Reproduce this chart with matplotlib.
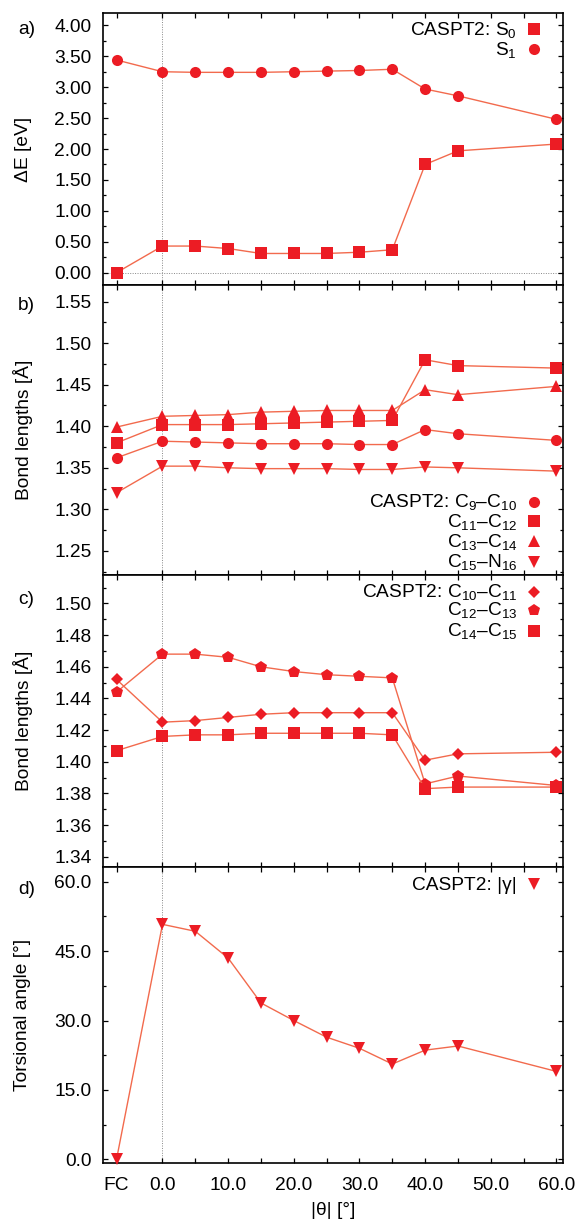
import matplotlib
matplotlib.use("Agg")
import matplotlib.pyplot as plt
from matplotlib.ticker import FixedLocator, FixedFormatter, MultipleLocator, FormatStrFormatter

plt.rcParams['font.family'] = ['Liberation Sans', 'DejaVu Sans']
plt.rcParams['mathtext.fontset'] = 'custom'
plt.rcParams['mathtext.rm'] = 'Liberation Sans'
plt.rcParams['mathtext.it'] = 'Liberation Sans'
plt.rcParams['mathtext.default'] = 'regular'

# ---- data -------------------------------------------------------------
FC_POS = -7.0
theta = [FC_POS, 0, 5, 10, 15, 20, 25, 30, 35, 40, 45, 60]

# a) energies [eV]
s0 = [0.00, 0.43, 0.43, 0.39, 0.31, 0.31, 0.31, 0.33, 0.37, 1.75, 1.97, 2.08]
s1 = [3.44, 3.25, 3.24, 3.24, 3.24, 3.25, 3.26, 3.27, 3.29, 2.97, 2.86, 2.48]

# b) bond lengths [Å]
c9_c10 = [1.362, 1.382, 1.381, 1.380, 1.379, 1.379, 1.379, 1.378, 1.378, 1.396, 1.391, 1.383]
c11_c12 = [1.380, 1.402, 1.402, 1.402, 1.403, 1.404, 1.405, 1.406, 1.407, 1.480, 1.473, 1.470]
c13_c14 = [1.399, 1.412, 1.413, 1.414, 1.417, 1.418, 1.419, 1.419, 1.419, 1.444, 1.438, 1.448]
c15_n16 = [1.320, 1.352, 1.352, 1.350, 1.349, 1.349, 1.349, 1.348, 1.348, 1.351, 1.350, 1.346]

# c) bond lengths [Å]
c10_c11 = [1.452, 1.425, 1.426, 1.428, 1.430, 1.431, 1.431, 1.431, 1.431, 1.401, 1.405, 1.406]
c12_c13 = [1.444, 1.468, 1.468, 1.466, 1.460, 1.457, 1.455, 1.454, 1.453, 1.386, 1.391, 1.385]
c14_c15 = [1.407, 1.416, 1.417, 1.417, 1.418, 1.418, 1.418, 1.418, 1.417, 1.383, 1.384, 1.384]

# d) torsional angle [°]
gamma = [0.0, 50.8, 49.3, 43.5, 33.8, 30.0, 26.4, 24.0, 20.6, 23.6, 24.5, 19.0]

xtick_pos = [FC_POS, 0, 5, 10, 15, 20, 25, 30, 35, 40, 45, 50, 55, 60]
xtick_lab = ['FC', '0.0', '', '10.0', '', '20.0', '', '30.0', '', '40.0', '', '50.0', '', '60.0']

# ---- style ------------------------------------------------------------
MARK = '#ec1c24'
LINE = '#f26a4d'
FS = 13.8

# marker sizes (points)
MS = {'o': 8.0, 's': 8.0, '^': 9.2, 'v': 9.2, 'D': 5.8, 'p': 8.6}

W, H = 576, 1220
fig = plt.figure(figsize=(W / 100, H / 100), dpi=100)

left_px, right_px = 103.4, 563.0
panels_px = [(13, 285), (285, 575), (575, 867), (867, 1163)]
axes = []
for top, bot in panels_px:
    ax = fig.add_axes([left_px / W, 1 - bot / H, (right_px - left_px) / W, (bot - top) / H])
    axes.append(ax)


def style_axis(ax, ylim, major, minor, fmt, show_x=False):
    ax.set_xlim(-9, 61)
    ax.set_ylim(*ylim)
    ax.xaxis.set_major_locator(FixedLocator(xtick_pos))
    if show_x:
        ax.xaxis.set_major_formatter(FixedFormatter(xtick_lab))
    else:
        ax.set_xticklabels([])
    ax.yaxis.set_major_locator(MultipleLocator(major))
    ax.yaxis.set_minor_locator(MultipleLocator(minor))
    ax.yaxis.set_major_formatter(FormatStrFormatter(fmt))
    ax.tick_params(which='both', direction='in', top=True, right=True,
                   width=0.9, labelsize=FS)
    ax.tick_params(which='major', length=3.4)
    ax.tick_params(which='minor', length=1.9)
    ax.tick_params(axis='y', pad=8.5)
    ax.tick_params(axis='x', pad=10)
    for sp in ax.spines.values():
        sp.set_linewidth(1.2)
    ax.axvline(0, color='#888888', ls=(0, (1, 1.5)), lw=0.7, zorder=1)


def series(ax, y, marker):
    ax.plot(theta, y, color=LINE, lw=1.0, marker=marker, ms=MS[marker],
            mfc=MARK, mec=MARK, mew=0, zorder=3, clip_on=False)


def key(ax, rows):
    """Right-aligned key rows: (label, marker, y offset in px from the axes top)."""
    bb = ax.get_position()
    h_px = bb.height * H
    for label, marker, ypx in rows:
        yf = 1 - ypx / h_px
        yb = 1 - (ypx + 5.5) / h_px
        ax.text((517 - left_px) / (right_px - left_px), yb, label,
                transform=ax.transAxes, ha='right', va='baseline', fontsize=FS)
        ax.plot([(534 - left_px) / (right_px - left_px)], [yf], marker=marker,
                ms=MS[marker], mfc=MARK, mec=MARK, mew=0, ls='none',
                transform=ax.transAxes, clip_on=False)


# a) energies
ax = axes[0]
style_axis(ax, (-0.2, 4.2), 0.5, 0.25, '%.2f')
ax.axhline(0, color='#888888', ls=(0, (1, 1.5)), lw=0.7, zorder=1)
series(ax, s0, 's')
series(ax, s1, 'o')
key(ax, [('CASPT2: S$_0$', 's', 16), ('S$_1$', 'o', 36)])

# b) bond lengths
ax = axes[1]
style_axis(ax, (1.221, 1.570), 0.05, 0.025, '%.2f')
series(ax, c9_c10, 'o')
series(ax, c11_c12, 's')
series(ax, c13_c14, '^')
series(ax, c15_n16, 'v')
key(ax, [('CASPT2: C$_9$–C$_{10}$', 'o', 217),
         ('C$_{11}$–C$_{12}$', 's', 236),
         ('C$_{13}$–C$_{14}$', '^', 256),
         ('C$_{15}$–N$_{16}$', 'v', 277)])

# c) bond lengths
ax = axes[2]
style_axis(ax, (1.3335, 1.518), 0.02, 0.01, '%.2f')
series(ax, c10_c11, 'D')
series(ax, c12_c13, 'p')
series(ax, c14_c15, 's')
key(ax, [('CASPT2: C$_{10}$–C$_{11}$', 'D', 16.5),
         ('C$_{12}$–C$_{13}$', 'p', 35),
         ('C$_{14}$–C$_{15}$', 's', 55.5)])

# d) torsional angle
ax = axes[3]
style_axis(ax, (-0.8, 63.2), 15, 7.5, '%.1f', show_x=True)
series(ax, gamma, 'v')
key(ax, [('CASPT2: |γ|', 'v', 17)])
ax.set_xlabel('|θ| [°]', fontsize=FS, labelpad=6)

# axis titles and panel letters
ylabels = ['ΔE [eV]', 'Bond lengths [Å]', 'Bond lengths [Å]', 'Torsional angle [°]']
letters = ['a)', 'b)', 'c)', 'd)']
letter_y = [29, 306, 600, 890]
for (top, bot), lab, let, ly in zip(panels_px, ylabels, letters, letter_y):
    fig.text(23 / W, 1 - (top + bot) / 2 / H, lab, rotation=90,
             ha='center', va='center', fontsize=FS)
    fig.text(18 / W, 1 - ly / H, let, ha='left', va='center', fontsize=FS)

fig.savefig('out.png', dpi=100)
